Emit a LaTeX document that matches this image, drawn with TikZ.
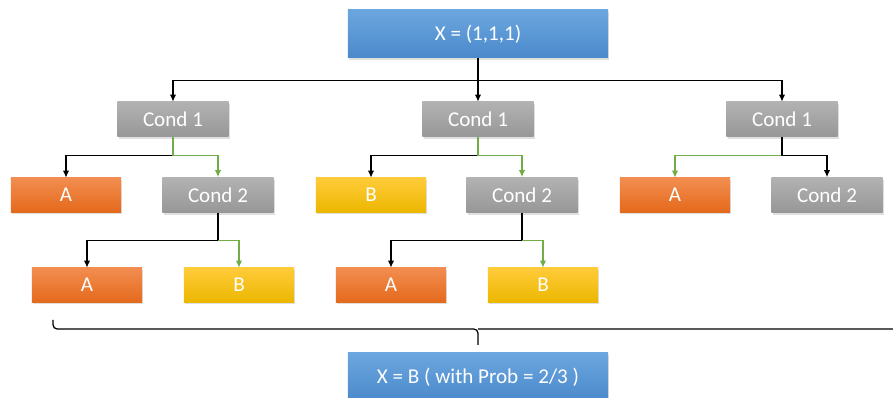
\documentclass[tikz,border=0pt]{standalone}
\usepackage{fontspec}
\setmainfont{Carlito}
\usetikzlibrary{arrows.meta,shadows}

\definecolor{blueTop}{HTML}{6CA6DF}
\definecolor{blueBot}{HTML}{4A89CB}
\definecolor{grayTop}{HTML}{B2B2B2}
\definecolor{grayBot}{HTML}{979797}
\definecolor{orangeTop}{HTML}{F28D50}
\definecolor{orangeBot}{HTML}{E46A1C}
\definecolor{yellowTop}{HTML}{FFCB3A}
\definecolor{yellowBot}{HTML}{ECB700}
\definecolor{yesGreen}{HTML}{70AD47}

\begin{document}
\begin{tikzpicture}[x=0.025cm, y=-0.025cm,
    box/.style ={rectangle, text=white, minimum width=2.75cm, minimum height=0.85cm,
      font=\fontsize{15}{17}\selectfont,
      drop shadow={shadow xshift=1pt, shadow yshift=-1.5pt, opacity=0.25}},
    result/.style ={box, top color=blueTop, bottom color=blueBot,
      minimum width=6.5cm, minimum height=1.2cm},
    cond/.style ={box, top color=grayTop, bottom color=grayBot,
      minimum width=2.775cm, minimum height=0.875cm},
    classA/.style ={box, top color=orangeTop, bottom color=orangeBot},
    classB/.style ={box, top color=yellowTop, bottom color=yellowBot},
    no/.style ={draw=black, line width=0.9pt, -{Latex[length=5pt,width=4.5pt]}},
    yes/.style ={no, draw=yesGreen}]
   \useasboundingbox (0,0) rectangle (893,398);

   \node[result] (root) at (478,34)  {X = (1,1,1)};

   \node[cond] (T1) at (173,119.5) {Cond 1};
   \node[cond] (T2) at (478,119.5) {Cond 1};
   \node[cond] (T3) at (782,119.5) {Cond 1};

   \node[classA] (T1A) at (66,195)  {A};
   \node[cond]   (T1C) at (218,195) {Cond 2};
   \node[classB] (T2B) at (371,195) {B};
   \node[cond]   (T2C) at (522,195) {Cond 2};
   \node[classA] (T3A) at (675,195) {A};
   \node[cond]   (T3C) at (827,195) {Cond 2};

   \node[classA] (T1CA) at (87,285)  {A};
   \node[classB] (T1CB) at (239,285) {B};
   \node[classA] (T2CA) at (391,285) {A};
   \node[classB] (T2CB) at (543,285) {B};

   \node[result] (vote) at (478,377) {X = B ( with Prob = 2/3 )};

   % root to the three trees
   \draw[no] (root) -- (T2);
   \draw[no] (root.south) ++(0,22) -| (T1.north);
   \draw[no] (root.south) ++(0,22) -| (T3.north);

   % first tree
   \draw[no]  (T1.south) ++(0,18) -| (T1A.north);
   \draw[yes] (T1.south) -- ++(0,18) -| (T1C.north);
   \draw[no]  (T1C.south) -- ++(0,28) -| (T1CA.north);
   \draw[yes] (T1C.south) ++(0,28) -| (T1CB.north);

   % second tree
   \draw[no]  (T2.south) ++(0,18) -| (T2B.north);
   \draw[yes] (T2.south) -- ++(0,18) -| (T2C.north);
   \draw[no]  (T2C.south) -- ++(0,28) -| (T2CA.north);
   \draw[yes] (T2C.south) ++(0,28) -| (T2CB.north);

   % third tree
   \draw[yes] (T3.south) ++(0,18) -| (T3A.north);
   \draw[no]  (T3.south) -- ++(0,18) -| (T3C.north);

   % brace over all the leaves
   \draw[line width=0.9pt, rounded corners=3pt] (53,320) |- (478,329) -- (478,345);
   \draw[line width=0.9pt, rounded corners=3pt] (903,320) |- (478,329);
 \end{tikzpicture}
\end{document}
